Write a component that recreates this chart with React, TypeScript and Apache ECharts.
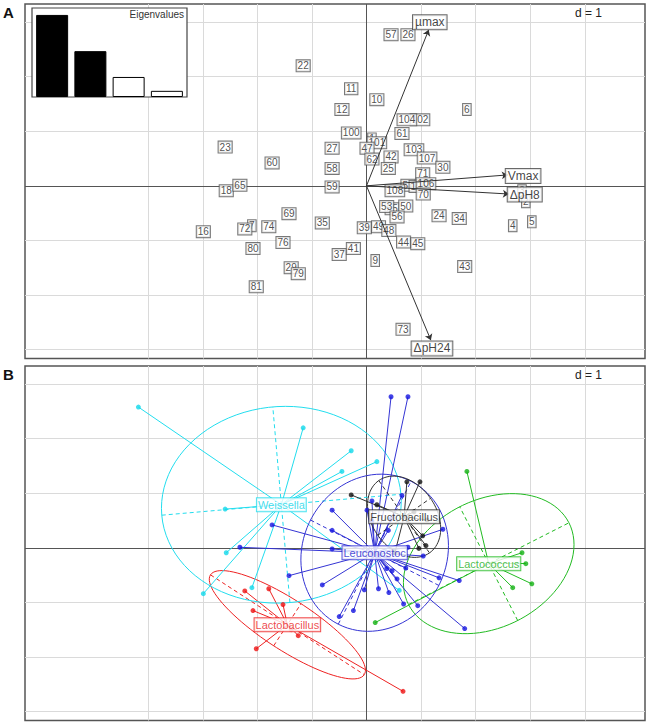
import React, { useEffect, useRef } from "react";
import * as echarts from "echarts";

// ---------- Panel A: site scores (labels) ----------
const siteLabels = ["22","23","60","57","26","11","10","12","6","102","104","100","61","1","101","47","27","103","62","42","107","58","25","30","71","59","51","108","105","106","70","55","53","50","56","24","34","4","5","3","2","39","49","48","44","45","37","41","9","43","73","35","18","65","16","7","72","74","69","76","80","29","79","81"];
const siteX = [-1.16,-2.59,-1.73,0.45,0.76,-0.28,0.19,-0.45,1.84,0.98,0.74,-0.28,0.65,0.10,0.19,0.01,-0.63,0.87,0.10,0.45,1.11,-0.63,0.40,1.40,1.03,-0.63,0.76,0.52,0.96,1.09,1.04,0.47,0.37,0.72,0.56,1.33,1.70,2.68,3.03,2.85,2.92,-0.04,0.22,0.41,0.68,0.94,-0.50,-0.24,0.16,1.80,0.67,-0.81,-2.57,-2.32,-2.99,-2.10,-2.23,-1.79,-1.42,-1.53,-2.08,-1.38,-1.25,-2.02];
const siteY = [2.20,0.71,0.42,2.77,2.77,1.78,1.58,1.40,1.40,1.21,1.21,0.97,0.96,0.86,0.79,0.69,0.69,0.66,0.49,0.53,0.51,0.32,0.32,0.34,0.22,-0.02,0.01,-0.09,-0.01,0.04,-0.15,-0.42,-0.38,-0.37,-0.57,-0.55,-0.60,-0.73,-0.66,-0.09,-0.29,-0.77,-0.75,-0.82,-1.03,-1.06,-1.26,-1.15,-1.37,-1.48,-2.63,-0.68,-0.09,0.01,-0.84,-0.73,-0.79,-0.75,-0.51,-1.04,-1.15,-1.50,-1.61,-1.85];

// variables (arrows)
const varNames = ["µmax", "Vmax", "ΔpH8", "ΔpH24"];
const varEndX = [1.14, 2.59, 2.61, 1.18];
const varEndY = [2.86, 0.20, -0.15, -2.83];
const varLabelX = [1.16, 2.87, 2.90, 1.20];
const varLabelY = [3.00, 0.18, -0.16, -2.98];

// eigenvalues
const eigenValues = [2.13, 1.19, 0.52, 0.16];
const eigenFilled = [true, true, false, false];

// ---------- Panel B: groups ----------
const groupNames = ["Lactobacillus", "Weissella", "Lactococcus", "Leuconostoc", "Fructobacillus"];
const lactobacillusPts = [[-2.23,-0.79],[-1.79,-0.75],[-2.08,-1.15],[-1.53,-1.04],[-1.25,-1.61],[-2.02,-1.85],[0.67,-2.63],[-1.38,-1.50]];
const weissellaPts = [[-4.18,2.58],[-1.16,2.20],[-2.59,0.71],[-0.28,1.78],[-0.45,1.40],[0.19,1.58],[-2.57,-0.09],[-2.99,-0.84],[-2.10,-0.73],[0.60,-0.78]];
const lactococcusPts = [[1.84,1.40],[2.85,-0.09],[2.92,-0.29],[2.68,-0.73],[3.03,-0.66],[0.16,-1.37]];
const leuconostocPts = [[0.45,2.77],[0.76,2.77],[-0.63,0.69],[0.01,0.69],[0.65,0.96],[0.40,0.32],[1.40,0.34],[-1.73,0.42],[-0.63,0.32],[-2.32,0.01],[-0.63,-0.02],[-1.42,-0.51],[-0.81,-0.68],[0.37,-0.38],[0.56,-0.57],[0.72,-0.37],[1.04,-0.15],[0.76,0.01],[-0.04,-0.77],[0.22,-0.75],[0.41,-0.82],[0.68,-1.03],[0.94,-1.06],[-0.24,-1.15],[-0.50,-1.26],[1.33,-0.55],[1.70,-0.60],[1.80,-1.48],[0.10,0.86],[0.10,0.49],[0.45,0.53],[0.47,-0.42]];
const fructobacillusPts = [[-0.28,0.97],[0.19,0.79],[0.98,1.21],[0.87,0.66],[0.74,1.21],[0.96,-0.01],[1.09,0.04],[1.11,0.51],[0.52,-0.09],[1.03,0.22]];
const groupCenters = [[-1.45,-1.41],[-1.56,0.79],[2.24,-0.29],[0.15,-0.09],[0.69,0.57]];
// ellipse: semi-axis a, semi-axis b, rotation (deg)
const groupEllipses = [[1.68,0.46,-33],[2.20,1.80,5],[1.65,1.17,27],[1.47,1.32,63],[0.81,0.59,-55]];

const groupColors = ["#EE2222", "#22DDEE", "#22BB22", "#3434D4", "#333333"];
const groupTextColors = ["#E81818", "#10D4E8", "#1AAE1A", "#2222CC", "#111111"];
const groupPointColors = ["#EE1111", "#11D8EA", "#11B011", "#1414E0", "#111111"];

// grid ticks
const gridXs = [-4, -3, -2, -1, 1, 2, 3, 4];
const gridYs = [-3, -2, -1, 1, 2, 3];

const X_MIN = -6.258, X_MAX = 5.104, Y_MIN = -3.165, Y_MAX = 3.333;
const FONT = "'Liberation Sans', Arial, Helvetica, sans-serif";

function ellipsePoints(c: number[], e: number[]) {
  const [a, b, deg] = e;
  const th = (deg * Math.PI) / 180;
  const pts: number[][] = [];
  for (let i = 0; i <= 90; i++) {
    const t = (i / 90) * 2 * Math.PI;
    pts.push([
      c[0] + a * Math.cos(t) * Math.cos(th) - b * Math.sin(t) * Math.sin(th),
      c[1] + a * Math.cos(t) * Math.sin(th) + b * Math.sin(t) * Math.cos(th),
    ]);
  }
  return pts;
}

function ellipseAxes(c: number[], e: number[]) {
  const [a, b, deg] = e;
  const th = (deg * Math.PI) / 180;
  return [
    { coords: [[c[0] - a * Math.cos(th), c[1] - a * Math.sin(th)], [c[0] + a * Math.cos(th), c[1] + a * Math.sin(th)]] },
    { coords: [[c[0] + b * Math.sin(th), c[1] - b * Math.cos(th)], [c[0] - b * Math.sin(th), c[1] + b * Math.cos(th)]] },
  ];
}

function panelFrame(gi: number): any[] {
  return [
    {
      type: "lines", coordinateSystem: "cartesian2d", xAxisIndex: gi, yAxisIndex: gi, silent: true, z: 1,
      lineStyle: { color: "#dadada", width: 1, opacity: 1 },
      data: [
        ...gridXs.map((v) => ({ coords: [[v, Y_MIN], [v, Y_MAX]] })),
        ...gridYs.map((v) => ({ coords: [[X_MIN, v], [X_MAX, v]] })),
      ],
    },
    {
      type: "lines", coordinateSystem: "cartesian2d", xAxisIndex: gi, yAxisIndex: gi, silent: true, z: 1,
      lineStyle: { color: "#555", width: 1, opacity: 1 },
      data: [{ coords: [[0, Y_MIN], [0, Y_MAX]] }, { coords: [[X_MIN, 0], [X_MAX, 0]] }],
    },
  ];
}

export default function App() {
  const ref = useRef<HTMLDivElement>(null);
  useEffect(() => {
    if (!ref.current) return;
    const chart = echarts.init(ref.current, undefined, { renderer: "svg" });
    const groupPts = [lactobacillusPts, weissellaPts, lactococcusPts, leuconostocPts, fructobacillusPts];

    const series: any[] = [...panelFrame(0), ...panelFrame(1)];

    // Panel A labels
    series.push({
      type: "scatter", xAxisIndex: 0, yAxisIndex: 0, symbolSize: 1, z: 3, silent: true,
      itemStyle: { color: "rgba(0,0,0,0)" },
      data: siteLabels.map((n, i) => ({ name: n, value: [siteX[i], siteY[i]] })),
      label: {
        show: true, position: "inside", formatter: "{b}", fontSize: 10, fontFamily: FONT, color: "#222",
        textBorderWidth: 0,
        backgroundColor: "#fff", borderColor: "#555", borderWidth: 1, padding: [1, 1, 0, 1], lineHeight: 10,
      },
    });
    // arrows
    series.push({
      type: "lines", coordinateSystem: "cartesian2d", xAxisIndex: 0, yAxisIndex: 0, silent: true, z: 4,
      symbol: ["none", "arrow"], symbolSize: 6,
      lineStyle: { color: "#333", width: 1, opacity: 1 },
      data: varNames.map((_, i) => ({ coords: [[0, 0], [varEndX[i], varEndY[i]]] })),
    });
    series.push({
      type: "scatter", xAxisIndex: 0, yAxisIndex: 0, symbolSize: 1, z: 5, silent: true,
      itemStyle: { color: "rgba(0,0,0,0)" },
      data: varNames.map((n, i) => ({ name: n, value: [varLabelX[i], varLabelY[i]] })),
      label: {
        show: true, position: "inside", formatter: "{b}", fontSize: 12, fontFamily: FONT, color: "#111",
        textBorderWidth: 0,
        backgroundColor: "#fff", borderColor: "#444", borderWidth: 1, padding: [1, 2, 0, 2], lineHeight: 13,
      },
    });
    // eigenvalue bars
    series.push({
      type: "bar", xAxisIndex: 2, yAxisIndex: 2, z: 20, silent: true, barWidth: 32,
      data: eigenValues.map((v, i) => ({
        value: v,
        itemStyle: { color: eigenFilled[i] ? "#000" : "#fff", borderColor: "#000", borderWidth: 1 },
      })),
    });

    // Panel B
    groupNames.forEach((name, gi) => {
      const c = groupCenters[gi];
      const col = groupColors[gi];
      series.push({
        type: "lines", coordinateSystem: "cartesian2d", xAxisIndex: 1, yAxisIndex: 1, silent: true, z: 2,
        lineStyle: { color: col, width: 1, opacity: 1 },
        data: groupPts[gi].map((p) => ({ coords: [c, p] })),
      });
      series.push({
        type: "lines", coordinateSystem: "cartesian2d", xAxisIndex: 1, yAxisIndex: 1, silent: true, z: 2,
        polyline: true,
        lineStyle: { color: col, width: 1, opacity: 1 },
        data: [{ coords: ellipsePoints(c, groupEllipses[gi]) }],
      });
      series.push({
        type: "lines", coordinateSystem: "cartesian2d", xAxisIndex: 1, yAxisIndex: 1, silent: true, z: 2,
        lineStyle: { color: col, width: 1, opacity: 1, type: [4, 3] },
        data: ellipseAxes(c, groupEllipses[gi]),
      });
      series.push({
        type: "scatter", xAxisIndex: 1, yAxisIndex: 1, silent: true, z: 3, symbolSize: 5,
        itemStyle: { color: groupPointColors[gi] },
        data: groupPts[gi],
      });
    });
    groupNames.forEach((name, gi) => {
      series.push({
        type: "scatter", xAxisIndex: 1, yAxisIndex: 1, symbolSize: 1, z: 6, silent: true,
        itemStyle: { color: "rgba(0,0,0,0)" },
        data: [{ name, value: groupCenters[gi] }],
        label: {
          show: true, position: "inside", formatter: "{b}", fontSize: 11, fontFamily: FONT, color: groupTextColors[gi],
          textBorderWidth: 0,
          backgroundColor: "#fff", borderColor: groupColors[gi], borderWidth: 1, padding: [1, 1, 0, 1], lineHeight: 12,
        },
      });
    });

    const valAxis = (gi: number, min: number, max: number) => ({
      gridIndex: gi, type: "value", min, max, show: false, splitLine: { show: false },
    });

    chart.setOption({
      animation: false,
      grid: [
        { left: 25, top: 4, width: 620, height: 354.5, show: true, borderColor: "#555", borderWidth: 1.5, backgroundColor: "transparent" },
        { left: 25, top: 366, width: 620, height: 354.5, show: true, borderColor: "#555", borderWidth: 1.5, backgroundColor: "transparent" },
        { left: 33, top: 8, width: 153, height: 89, show: false },
      ],
      xAxis: [
        valAxis(0, X_MIN, X_MAX),
        valAxis(1, X_MIN, X_MAX),
        { gridIndex: 2, type: "category", data: ["1", "2", "3", "4"], show: false },
      ],
      yAxis: [
        valAxis(0, Y_MIN, Y_MAX),
        valAxis(1, Y_MIN, Y_MAX),
        { gridIndex: 2, type: "value", min: 0, max: 2.31, show: false, splitLine: { show: false } },
      ],
      graphic: [
        { type: "rect", z: 10, shape: { x: 32, y: 8, width: 155, height: 89 }, style: { fill: "#fff", stroke: "#444", lineWidth: 1.2 } },
        { type: "text", z: 21, x: 184, y: 9, style: { text: "Eigenvalues", fontSize: 10, fontFamily: FONT, fill: "#333", align: "right", verticalAlign: "top" } },
        { type: "text", z: 21, x: 3, y: 5, style: { text: "A", fontSize: 15, fontWeight: "bold", fontFamily: FONT, fill: "#111" } },
        { type: "text", z: 21, x: 3, y: 367, style: { text: "B", fontSize: 15, fontWeight: "bold", fontFamily: FONT, fill: "#111" } },
        { type: "text", z: 21, x: 575, y: 7, style: { text: "d = 1", fontSize: 12, fontFamily: FONT, fill: "#222" } },
        { type: "text", z: 21, x: 575, y: 369, style: { text: "d = 1", fontSize: 12, fontFamily: FONT, fill: "#222" } },
      ],
      series,
    });
    return () => chart.dispose();
  }, []);
  return <div ref={ref} style={{ position: "absolute", left: 0, top: 0, width: 649, height: 725, background: "#fff" }} />;
}
